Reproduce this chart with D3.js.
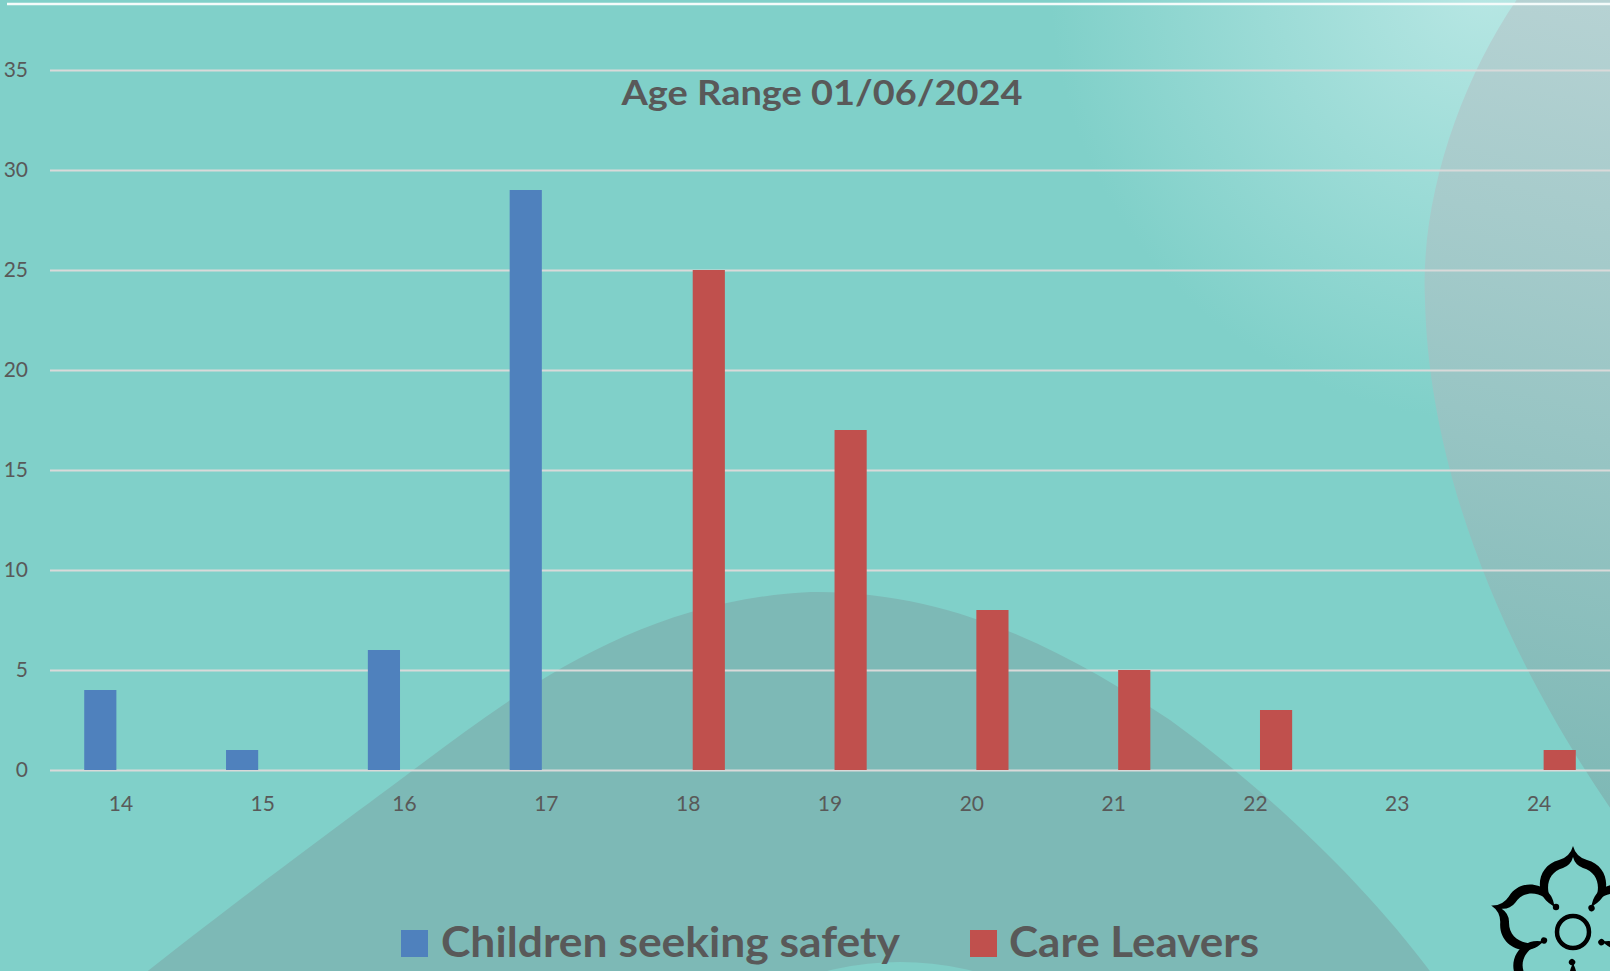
<!DOCTYPE html>
<html>
<head>
<meta charset="utf-8">
<script src="https://cdn.jsdelivr.net/npm/d3@7/dist/d3.min.js"></script>
<style>
  html, body { margin: 0; padding: 0; background: #80d0c9; overflow: hidden; }
  svg { display: block; }
  text { font-family: Lato, "Open Sans", sans-serif; fill: #595959; }
</style>
</head>
<body>
<svg id="chart" width="1610" height="971"></svg>
<script>
// ---- data ----
const ages = ["14", "15", "16", "17", "18", "19", "20", "21", "22", "23", "24"];
const seriesNames = ["Children seeking safety", "Care Leavers"];
const childrenSeekingSafety = [4, 1, 6, 29, 0, 0, 0, 0, 0, 0, 0];
const careLeavers = [0, 0, 0, 0, 25, 17, 8, 5, 3, 0, 1];
const yTicks = [0, 5, 10, 15, 20, 25, 30, 35];
const chartTitle = "Age Range 01/06/2024";
const seriesColors = ["#4f81bd", "#c0504d"];

// ---- layout ----
const W = 1610, H = 971;
const plot = { left: 50, right: 1610, top: 70, bottom: 770 };

const svg = d3.select("#chart");
const defs = svg.append("defs");

// background decoration
const rg = defs.append("radialGradient").attr("id", "glow")
  .attr("gradientUnits", "userSpaceOnUse").attr("cx", 1490).attr("cy", -20).attr("r", 440);
rg.append("stop").attr("offset", "0").attr("stop-color", "#b8e7e4");
rg.append("stop").attr("offset", "1").attr("stop-color", "#80d0c9");

const lg = defs.append("linearGradient").attr("id", "rightShape")
  .attr("gradientUnits", "userSpaceOnUse").attr("x1", 1600).attr("y1", 0).attr("x2", 1430).attr("y2", 760);
lg.append("stop").attr("offset", "0").attr("stop-color", "#b6d2d3");
lg.append("stop").attr("offset", "0.55").attr("stop-color", "#98c5c4");
lg.append("stop").attr("offset", "1").attr("stop-color", "#7fb9b6");

svg.append("rect").attr("width", W).attr("height", H).attr("fill", "#80d0c9");
svg.append("rect").attr("width", W).attr("height", H).attr("fill", "url(#glow)");

// hill
svg.append("path")
  .attr("d", "M130,985 C250,890 360,810 420,765 C520,690 640,600 811,592 C960,590 1080,660 1170,720 C1280,800 1380,900 1440,985 Z")
  .attr("fill", "#7db9b6");
// small light bump at bottom
svg.append("ellipse").attr("cx", 900).attr("cy", 1050).attr("rx", 165).attr("ry", 88)
  .attr("fill", "#80cdc6");
// right shape
svg.append("path")
  .attr("d", "M1520,-5 C1460,80 1420,200 1425,300 C1428,440 1480,620 1615,815 L1615,-5 Z")
  .attr("fill", "url(#rightShape)");

// top white line
svg.append("line").attr("x1", 7).attr("x2", W).attr("y1", 4).attr("y2", 4)
  .attr("stroke", "#f4fbfa").attr("stroke-width", 2.5);

// ---- scales ----
const x0 = d3.scaleBand().domain(ages).range([plot.left, plot.right]).paddingInner(0).paddingOuter(0);
const x1 = d3.scaleBand().domain(seriesNames).range([0, x0.bandwidth()]).paddingInner(0.22).paddingOuter(0.83);
const y = d3.scaleLinear().domain([0, 35]).range([plot.bottom, plot.top]);

// ---- y axis + gridlines ----
const yAxis = svg.append("g").attr("transform", `translate(${plot.left},0)`)
  .call(d3.axisLeft(y).tickValues(yTicks).tickSize(-(plot.right - plot.left)).tickPadding(22));
yAxis.select(".domain").remove();
yAxis.selectAll("line").attr("stroke", "#d9d9d9").attr("stroke-width", 2);
yAxis.selectAll("text").style("font-size", "21px").attr("fill", "#595959");

// ---- x axis ----
const xAxis = svg.append("g").attr("transform", `translate(0,${plot.bottom})`)
  .call(d3.axisBottom(x0).tickSize(0).tickPadding(26));
xAxis.select(".domain").remove();
xAxis.selectAll("text").style("font-size", "21px").attr("fill", "#595959");

// ---- bars ----
const rows = ages.map((a, i) => ({ age: a, values: [childrenSeekingSafety[i], careLeavers[i]] }));
const groups = svg.append("g").selectAll("g").data(rows).join("g")
  .attr("transform", d => `translate(${x0(d.age)},0)`);
groups.selectAll("rect")
  .data(d => d.values.map((v, k) => ({ name: seriesNames[k], v, k })).filter(e => e.v > 0))
  .join("rect")
  .attr("x", e => x1(e.name))
  .attr("width", x1.bandwidth())
  .attr("y", e => y(e.v))
  .attr("height", e => y(0) - y(e.v))
  .attr("fill", e => seriesColors[e.k]);

// ---- title ----
svg.append("text").attr("x", 822).attr("y", 105).attr("text-anchor", "middle")
  .style("font-size", "35px").style("font-weight", "bold")
  .attr("textLength", 401).attr("lengthAdjust", "spacingAndGlyphs")
  .text(chartTitle);

// ---- legend ----
const legendItems = [
  { name: seriesNames[0], sx: 401, tx: 441, tw: 459 },
  { name: seriesNames[1], sx: 970, tx: 1009, tw: 250 }
];
const leg = svg.append("g");
legendItems.forEach((it, k) => {
  leg.append("rect").attr("x", it.sx).attr("y", 930).attr("width", 27).attr("height", 27)
    .attr("fill", seriesColors[k]);
  leg.append("text").attr("x", it.tx).attr("y", 957)
    .style("font-size", "42px").style("font-weight", "bold")
    .attr("textLength", it.tw).attr("lengthAdjust", "spacingAndGlyphs")
    .text(it.name);
});

// ---- logo (decorative) ----
const logo = svg.append("g").attr("transform", "translate(1573,932)");
logo.append("circle").attr("r", 16).attr("fill", "none").attr("stroke", "#000").attr("stroke-width", 4.5);
const petal = "M-17,-25 C-40,-33 -38,-66 -14,-72 Q-3,-75 0,-86 Q3,-75 14,-72 C38,-66 40,-33 17,-25 " +
              "C29,-38 28,-59 10,-64 Q2,-67 0,-75 Q-2,-67 -10,-64 C-28,-59 -29,-38 -17,-25 Z";
[0, 72, 144, 216, 288].forEach(a => {
  const g = logo.append("g").attr("transform", `rotate(${a})`);
  g.append("path").attr("d", petal).attr("fill", "#000");
  g.append("circle").attr("cx", -17).attr("cy", -25).attr("r", 3.2).attr("fill", "#000");
});
</script>
</body>
</html>
